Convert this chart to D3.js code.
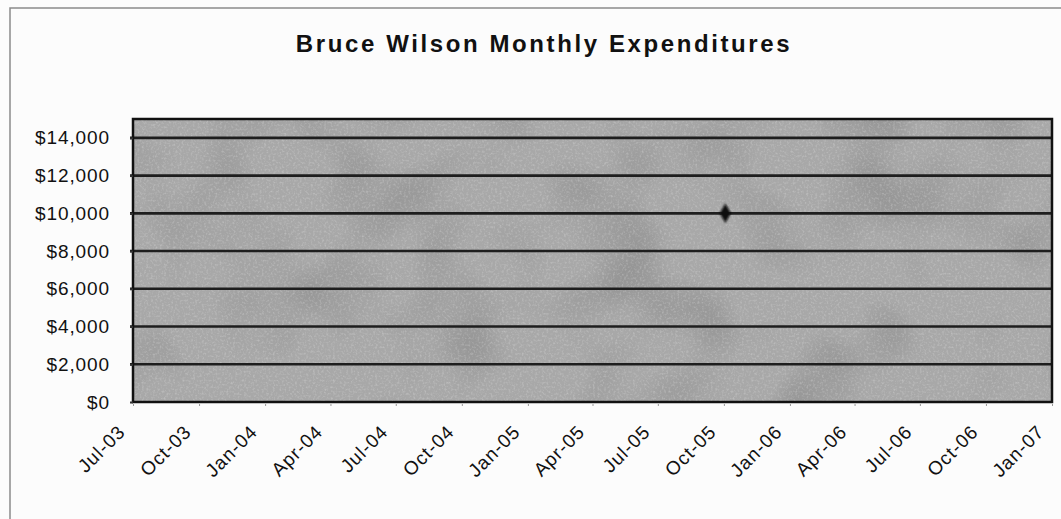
<!DOCTYPE html>
<html><head><meta charset="utf-8">
<script src="https://cdn.jsdelivr.net/npm/d3@7"></script>
<style>
html,body{margin:0;padding:0;background:#fcfcfc;}
text{font-family:"Liberation Sans",Arial,sans-serif;fill:#111;}
</style></head>
<body><svg id="c" width="1061" height="519"></svg>
<script>
const title = "Bruce Wilson Monthly Expenditures";
const dates = ["2005-10-03"];
const values = [10000];
const yTicks = [0,2000,4000,6000,8000,10000,12000,14000];
const xTickLabels = ["Jul-03","Oct-03","Jan-04","Apr-04","Jul-04","Oct-04","Jan-05","Apr-05","Jul-05","Oct-05","Jan-06","Apr-06","Jul-06","Oct-06","Jan-07"];

const svg = d3.select("#c");
const W=1061,H=519;
const m={l:133,r:1052,t:119,b:402};
const parse=d3.timeParse("%Y-%m-%d");
const x=d3.scaleTime().domain([new Date(2003,6,1),new Date(2007,0,1)]).range([m.l,m.r]);
const y=d3.scaleLinear().domain([0,15000]).range([m.b,m.t]);

const defs=svg.append("defs");
const f=defs.append("filter").attr("id","tex").attr("x",0).attr("y",0).attr("width",1).attr("height",1);
f.append("feTurbulence").attr("type","fractalNoise").attr("baseFrequency",0.45).attr("numOctaves",2).attr("seed",3).attr("result","n");
f.append("feColorMatrix").attr("in","n").attr("type","matrix")
 .attr("values","0 0 0 0 1  0 0 0 0 1  0 0 0 0 1  1.6 0 0 0 -0.75").attr("result","w");
f.append("feComposite").attr("in","w").attr("in2","SourceGraphic").attr("operator","in");
const f2=defs.append("filter").attr("id","tex2").attr("x",0).attr("y",0).attr("width",1).attr("height",1);
f2.append("feTurbulence").attr("type","fractalNoise").attr("baseFrequency",0.012).attr("numOctaves",2).attr("seed",7).attr("result","n");
f2.append("feColorMatrix").attr("in","n").attr("type","matrix")
 .attr("values","0 0 0 0 0  0 0 0 0 0  0 0 0 0 0  2.2 0 0 0 -1.0").attr("result","w");
f2.append("feComposite").attr("in","w").attr("in2","SourceGraphic").attr("operator","in");
const blur=defs.append("filter").attr("id","bl");
blur.append("feGaussianBlur").attr("stdDeviation",0.8);

// outer frame
svg.append("path").attr("d",`M10,${H+5}V8H${W+5}`).attr("fill","none").attr("stroke","#8a8a8a").attr("stroke-width",1.5);

// title
svg.append("text").attr("x",544).attr("y",52).attr("text-anchor","middle")
 .style("font-size","24px").style("font-weight","bold").style("letter-spacing","2.6px").text(title);

// plot background
svg.append("rect").attr("x",m.l).attr("y",m.t).attr("width",m.r-m.l).attr("height",m.b-m.t).attr("fill","#a8a8a8");
svg.append("rect").attr("x",m.l).attr("y",m.t).attr("width",m.r-m.l).attr("height",m.b-m.t).attr("fill","#a8a8a8").attr("filter","url(#tex2)").attr("opacity",0.13);
svg.append("rect").attr("x",m.l).attr("y",m.t).attr("width",m.r-m.l).attr("height",m.b-m.t).attr("fill","#a8a8a8").attr("filter","url(#tex)").attr("opacity",0.35);

// gridlines
svg.append("g").selectAll("line").data(yTicks.filter(d=>d>0)).join("line")
 .attr("x1",m.l-3).attr("x2",m.r).attr("y1",d=>y(d)).attr("y2",d=>y(d))
 .attr("stroke","#1e1e1e").attr("stroke-width",2.6);

// plot border
svg.append("rect").attr("x",m.l).attr("y",m.t).attr("width",m.r-m.l).attr("height",m.b-m.t)
 .attr("fill","none").attr("stroke","#111").attr("stroke-width",2.5);

// y axis
const ya=svg.append("g").attr("transform",`translate(${m.l},0)`)
 .call(d3.axisLeft(y).tickValues(yTicks).tickSize(3).tickPadding(20).tickFormat(d=>"$"+d3.format(",")(d)));
ya.select(".domain").remove();
ya.selectAll(".tick line").attr("stroke","#333").attr("stroke-width",2);
ya.selectAll("text").style("font-size","19px").style("letter-spacing","0.9px").attr("fill","#111");

// x axis
const xTickDates=xTickLabels.map(s=>d3.timeParse("%b-%y")(s));
const xa=svg.append("g").attr("transform",`translate(0,${m.b})`)
 .call(d3.axisBottom(x).tickValues(xTickDates).tickSize(4).tickFormat((d,i)=>xTickLabels[i]));
xa.select(".domain").remove();
xa.selectAll(".tick line").attr("stroke","#999").attr("stroke-width",1).attr("y1",2);
xa.selectAll("text").attr("text-anchor","end").attr("dy",0).attr("y",0)
 .attr("transform","translate(-7,31) rotate(-45)")
 .style("font-size","19px").style("letter-spacing","1px").attr("fill","#111");

// data
svg.append("g").selectAll("path").data(dates.map((d,i)=>({d:parse(d),v:values[i]}))).join("path")
 .attr("d",d3.symbol(d3.symbolDiamond,110))
 .attr("transform",p=>`translate(${x(p.d)},${y(p.v)})`)
 .attr("fill","#0a0a0a").attr("filter","url(#bl)");
</script></body></html>
